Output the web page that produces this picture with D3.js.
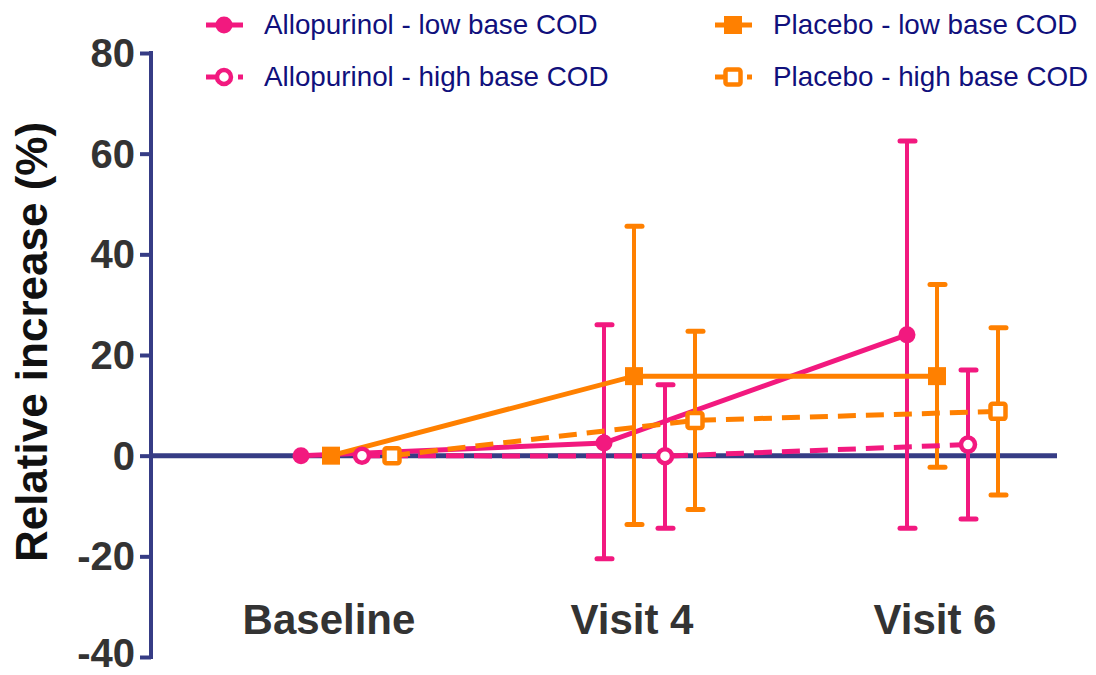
<!DOCTYPE html>
<html><head><meta charset="utf-8">
<script src="https://cdn.jsdelivr.net/npm/d3@7"></script>
<style>body{margin:0;background:#fff}svg{display:block}</style>
</head><body>
<svg id="c" width="1096" height="675"></svg>
<script>
const categories = ["Baseline", "Visit 4", "Visit 6"];
const yTicks = [-40, -20, 0, 20, 40, 60, 80];
const seriesNames = ["Allopurinol - low base COD", "Placebo - low base COD", "Allopurinol - high base COD", "Placebo - high base COD"];
const alloLowMean = [0, 2.5, 24.0];
const alloLowLower = [0, -20.5, -14.4];
const alloLowUpper = [0, 26.0, 62.5];
const placLowMean = [0, 15.8, 15.8];
const placLowLower = [0, -13.7, -2.3];
const placLowUpper = [0, 45.6, 34.0];
const alloHighMean = [0, -0.1, 2.2];
const alloHighLower = [0, -14.4, -12.6];
const alloHighUpper = [0, 14.1, 17.0];
const placHighMean = [0, 7.0, 8.8];
const placHighLower = [0, -10.7, -7.8];
const placHighUpper = [0, 24.7, 25.4];

const PINK = "#f2197f", ORANGE = "#ff8000", NAVY = "#363c85", TXT = "#333333", LEG = "#10107c";

const series = [
  {name: seriesNames[0], mean: alloLowMean, lo: alloLowLower, hi: alloLowUpper, color: PINK, shape: "circle", open: false, dash: null, off: -30},
  {name: seriesNames[1], mean: placLowMean, lo: placLowLower, hi: placLowUpper, color: ORANGE, shape: "square", open: false, dash: null, off: 0},
  {name: seriesNames[2], mean: alloHighMean, lo: alloHighLower, hi: alloHighUpper, color: PINK, shape: "circle", open: true, dash: "18,10", off: 31},
  {name: seriesNames[3], mean: placHighMean, lo: placHighLower, hi: placHighUpper, color: ORANGE, shape: "square", open: true, dash: "18,10", off: 61}
];

const svg = d3.select("#c");
const x = d3.scalePoint().domain(categories).range([331, 937]);
const y = d3.scaleLinear().domain([-40, 80]).range([657, 53]);
const axisX = 151;
const FONT = "Liberation Sans, Arial, sans-serif";

// y axis
const yAxis = d3.axisLeft(y).tickValues(yTicks).tickSize(11).tickPadding(5).tickFormat(d => String(d));
const gy = svg.append("g").attr("transform", `translate(${axisX},0)`).call(yAxis);
gy.select(".domain").remove();
gy.selectAll(".tick line").attr("stroke", NAVY).attr("stroke-width", 4);
gy.selectAll(".tick text").attr("fill", TXT).attr("font-family", FONT)
  .attr("font-weight", "bold").attr("font-size", 40)
  .attr("dy", d => d === -40 ? "0.24em" : "0.34em");
svg.append("line").attr("x1", axisX).attr("x2", axisX).attr("y1", y(80) - 2).attr("y2", y(-40) + 2)
  .attr("stroke", NAVY).attr("stroke-width", 4);

// zero line / x axis
svg.append("line").attr("x1", axisX).attr("x2", 1057).attr("y1", y(0)).attr("y2", y(0))
  .attr("stroke", NAVY).attr("stroke-width", 5);

// x category labels
svg.append("g").selectAll("text").data(categories).join("text")
  .attr("x", d => x(d) - 2).attr("y", 634).attr("text-anchor", "middle")
  .attr("fill", TXT).attr("font-family", FONT)
  .attr("font-weight", "bold").attr("font-size", 42).text(d => d);

// y title
svg.append("text").attr("transform", "translate(47,342) rotate(-90)").attr("text-anchor", "middle")
  .attr("fill", "#111").attr("font-family", FONT)
  .attr("font-weight", "bold").attr("font-size", 44).text("Relative increase (%)");

function marker(g, s, cx, cy) {
  if (s.shape === "circle") {
    if (s.open) g.append("circle").attr("cx", cx).attr("cy", cy).attr("r", 7).attr("fill", "#fff").attr("stroke", s.color).attr("stroke-width", 4.5);
    else g.append("circle").attr("cx", cx).attr("cy", cy).attr("r", 8.5).attr("fill", s.color);
  } else {
    if (s.open) g.append("rect").attr("x", cx - 7.5).attr("y", cy - 7.5).attr("width", 15).attr("height", 15).attr("rx", 2)
      .attr("fill", "#fff").attr("stroke", s.color).attr("stroke-width", 4.5).attr("stroke-linejoin", "round");
    else g.append("rect").attr("x", cx - 9).attr("y", cy - 9).attr("width", 18).attr("height", 18).attr("fill", s.color);
  }
}

const plot = svg.append("g");
series.forEach(s => {
  const g = plot.append("g");
  const pts = categories.map((c, i) => ({x: x(c) + s.off, m: s.mean[i], lo: s.lo[i], hi: s.hi[i]}));
  pts.forEach(p => {
    if (p.hi === p.lo) return;
    g.append("line").attr("x1", p.x).attr("x2", p.x).attr("y1", y(p.lo)).attr("y2", y(p.hi))
      .attr("stroke", s.color).attr("stroke-width", 4);
    [p.lo, p.hi].forEach(v => g.append("line").attr("x1", p.x - 7).attr("x2", p.x + 8).attr("y1", y(v)).attr("y2", y(v))
      .attr("stroke", s.color).attr("stroke-width", 5).attr("stroke-linecap", "round"));
  });
  g.append("path").datum(pts).attr("fill", "none").attr("stroke", s.color).attr("stroke-width", 5)
    .attr("stroke-dasharray", s.dash).attr("d", d3.line().x(d => d.x).y(d => y(d.m)));
  pts.forEach(p => marker(g, s, p.x, y(p.m)));
});

// legend
const legPos = [[224, 25], [733, 25], [224, 77], [733, 77]];
series.forEach((s, i) => {
  const [cx, cy] = legPos[i];
  const g = svg.append("g");
  if (s.dash) {
    g.append("line").attr("x1", cx - 18).attr("x2", cx - 6).attr("y1", cy).attr("y2", cy).attr("stroke", s.color).attr("stroke-width", 5);
    g.append("line").attr("x1", cx + 14).attr("x2", cx + 19).attr("y1", cy).attr("y2", cy).attr("stroke", s.color).attr("stroke-width", 5);
  } else {
    g.append("line").attr("x1", cx - 18).attr("x2", cx + 19).attr("y1", cy).attr("y2", cy).attr("stroke", s.color).attr("stroke-width", 5);
  }
  marker(g, s, cx, cy);
  g.append("text").attr("x", cx + 40).attr("y", cy + 9).attr("fill", LEG)
    .attr("font-family", FONT).attr("font-size", 27.8).text(s.name);
});
</script>
</body></html>
